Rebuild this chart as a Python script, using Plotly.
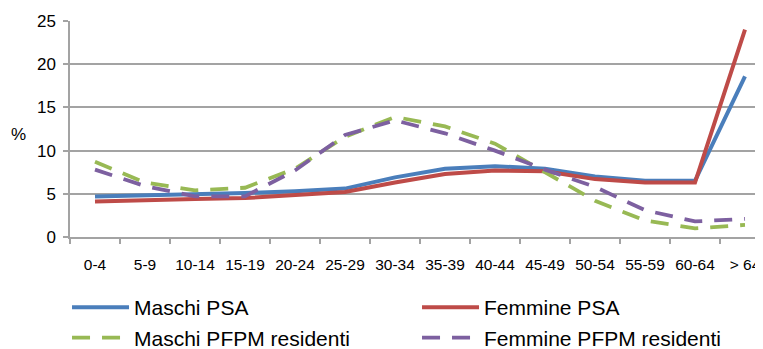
import plotly.graph_objects as go

categories = ["0-4", "5-9", "10-14", "15-19", "20-24", "25-29", "30-34",
              "35-39", "40-44", "45-49", "50-54", "55-59", "60-64", "> 64"]
maschi_psa = [4.7, 4.8, 4.9, 5.1, 5.3, 5.6, 6.9, 7.9, 8.2, 7.9, 7.0, 6.5, 6.5, 18.6]
femmine_psa = [4.1, 4.3, 4.4, 4.5, 4.8, 5.2, 6.3, 7.3, 7.7, 7.6, 6.7, 6.3, 6.3, 24.0]
maschi_pfpm = [8.7, 6.3, 5.4, 5.7, 7.9, 11.6, 13.9, 12.8, 10.8, 7.5, 4.2, 1.9, 1.0, 1.4]
femmine_pfpm = [7.8, 5.9, 4.7, 4.7, 7.7, 11.8, 13.5, 12.0, 10.0, 7.8, 5.8, 3.1, 1.8, 2.1]
y_ticks = [0, 5, 10, 15, 20, 25]

FONT = "Liberation Sans, Arial, sans-serif"
GRID = "#A3A3A3"

fig = go.Figure()
fig.add_trace(go.Scatter(x=categories, y=maschi_psa, name="Maschi PSA", mode="lines",
                         line=dict(color="#4A7EBB", width=4)))
fig.add_trace(go.Scatter(x=categories, y=femmine_psa, name="Femmine PSA", mode="lines",
                         line=dict(color="#BE4B48", width=4)))
fig.add_trace(go.Scatter(x=categories, y=maschi_pfpm, name="Maschi PFPM residenti", mode="lines",
                         line=dict(color="#98B954", width=3.8, dash="18px,12px")))
fig.add_trace(go.Scatter(x=categories, y=femmine_pfpm, name="Femmine PFPM residenti", mode="lines",
                         line=dict(color="#7D60A0", width=3.8, dash="18px,12px")))

# The page body adds an 8px margin, so the figure is sized to the visible area.
fig.update_layout(
    width=755, height=341,
    margin=dict(l=62, r=0, t=13, b=112, autoexpand=False),
    paper_bgcolor="white", plot_bgcolor="white",
    font=dict(family=FONT, color="black"),
    showlegend=True,
    legend=dict(orientation="h", x=-0.0043, y=-0.232, xanchor="left", yanchor="top",
                font=dict(size=21, family=FONT), itemwidth=57, entrywidth=278,
                bgcolor="rgba(0,0,0,0)", tracegroupgap=0),
    annotations=[dict(text="%", xref="paper", yref="paper", x=-0.075, y=0.475,
                      xanchor="center", yanchor="middle", showarrow=False,
                      font=dict(size=17, family=FONT))],
)
fig.update_xaxes(
    type="category", range=[-0.5, 13.36], automargin=False,
    showgrid=False, showline=True, linecolor=GRID, linewidth=1.5,
    ticks="outside", tickson="boundaries", ticklen=5, tickcolor=GRID, tickwidth=1.5,
    tickangle=0, tickfont=dict(size=15.5, family=FONT), ticklabelstandoff=13,
)
fig.update_yaxes(
    range=[0, 25], tickvals=y_ticks, automargin=False,
    showgrid=True, gridcolor=GRID, gridwidth=1.5,
    zeroline=False, showline=True, linecolor=GRID, linewidth=1.5,
    ticks="outside", ticklen=5, tickcolor=GRID, tickwidth=1.5,
    tickfont=dict(size=17, family=FONT), ticklabelstandoff=4,
)

fig.write_html("out.html")
